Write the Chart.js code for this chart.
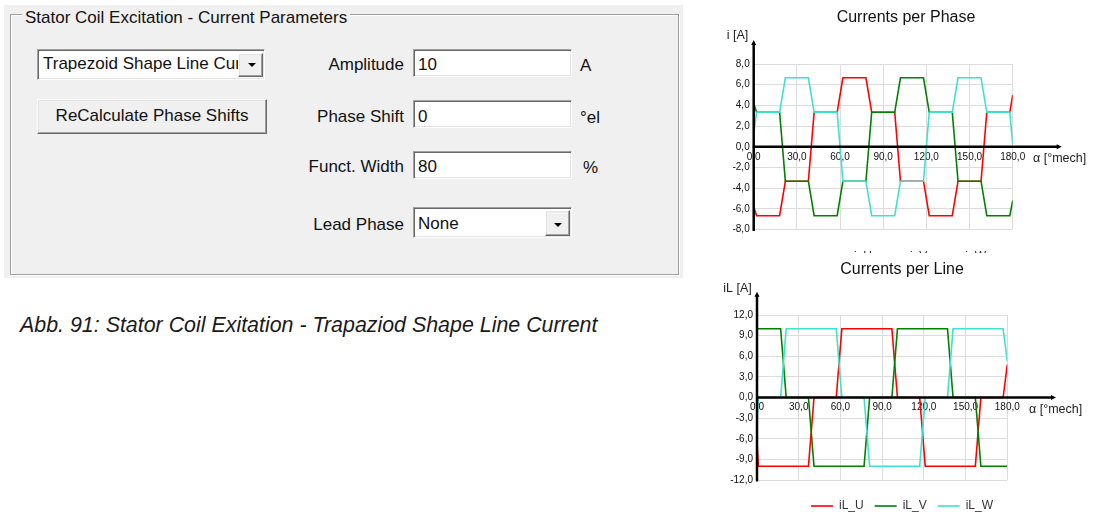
<!DOCTYPE html>
<html><head><meta charset="utf-8">
<script src="https://cdn.jsdelivr.net/npm/chart.js@4.4.1/dist/chart.umd.min.js"></script>
<style>
html,body{margin:0;padding:0;background:#fff;width:1093px;height:514px;overflow:hidden;}
body{position:relative;font-family:'Liberation Sans',Arial,sans-serif;}
.a{position:absolute;}
.t{position:absolute;font-size:17px;line-height:20px;white-space:nowrap;color:#111;}
.r{text-align:right;}
#panel{left:4px;top:5px;width:679px;height:273px;background:#f0f0f0;}
#group{left:10px;top:14px;width:667px;height:259px;border:1px solid #a0a0a0;box-shadow:inset 1px 1px 0 #fff,1px 1px 0 #fff;}
.sunk{position:absolute;box-sizing:border-box;background:#fff;border-top:1px solid #a0a0a0;border-left:1px solid #a0a0a0;border-right:1px solid #fff;border-bottom:1px solid #fff;box-shadow:inset 1px 1px 0 #696969,inset -1px -1px 0 #e3e3e3;}
.raised{position:absolute;box-sizing:border-box;background:#f0f0f0;border-top:1px solid #fff;border-left:1px solid #fff;border-right:1px solid #696969;border-bottom:1px solid #696969;box-shadow:inset -1px -1px 0 #a0a0a0,inset 1px 1px 0 #e3e3e3;}
.tri{position:absolute;width:0;height:0;border-left:4px solid transparent;border-right:4px solid transparent;border-top:4px solid #000;}
#cap{left:20px;top:313px;font-size:21.4px;line-height:24px;font-style:italic;color:#1a1a1a;white-space:nowrap;}
#w1{left:720px;top:0;width:372px;height:253px;overflow:hidden;background:#fff;}
#w2{left:720px;top:253px;width:364px;height:269px;background:#fff;}
canvas{display:block;}
</style>
</head><body>
<div id="panel" class="a"></div>
<div id="group" class="a"></div>
<div class="t" style="left:22px;top:7.7px;padding:0 3px;background:#f0f0f0;">Stator Coil Excitation - Current Parameters</div>

<div class="sunk" style="left:37px;top:49px;width:228px;height:31px;"></div>
<div class="t" style="left:43px;top:54.4px;width:195px;overflow:hidden;">Trapezoid Shape Line Current</div>
<div class="raised" style="left:238px;top:53px;width:25px;height:24px;"></div>
<div class="tri" style="left:248px;top:62.5px;"></div>

<div class="raised" style="left:37px;top:99px;width:230px;height:35px;"></div>
<div class="t" style="left:37px;top:106.2px;width:230px;text-align:center;">ReCalculate Phase Shifts</div>

<div class="t r" style="left:250px;top:54.7px;width:154px;">Amplitude</div>
<div class="t r" style="left:250px;top:106.5px;width:154px;">Phase Shift</div>
<div class="t r" style="left:250px;top:156.5px;width:154px;">Funct. Width</div>
<div class="t r" style="left:250px;top:214.9px;width:154px;">Lead Phase</div>

<div class="sunk" style="left:413px;top:49px;width:159px;height:28px;"></div>
<div class="sunk" style="left:413px;top:100px;width:159px;height:28px;"></div>
<div class="sunk" style="left:413px;top:151px;width:159px;height:28px;"></div>
<div class="t" style="left:418px;top:54.7px;">10</div>
<div class="t" style="left:418px;top:106.5px;">0</div>
<div class="t" style="left:418px;top:156.5px;">80</div>
<div class="t" style="left:580px;top:56px;">A</div>
<div class="t" style="left:580px;top:107.5px;">°el</div>
<div class="t" style="left:583px;top:158px;">%</div>

<div class="sunk" style="left:413px;top:207px;width:159px;height:31px;"></div>
<div class="t" style="left:418px;top:214.2px;">None</div>
<div class="raised" style="left:545px;top:210px;width:25px;height:26px;"></div>
<div class="tri" style="left:554px;top:222.5px;"></div>

<div id="cap" class="a">Abb. 91: Stator Coil Exitation - Trapaziod Shape Line Current</div>

<div id="w1" class="a"><canvas id="c1" width="372" height="273"></canvas></div>
<div id="w2" class="a"><canvas id="c2" width="364" height="269"></canvas></div>

<script>
// ---- Data: Currents per Phase (top chart) ----
const phaseAngles = [0, 2, 18, 22, 38, 42, 58, 62, 78, 82, 98, 102, 118, 122, 138, 142, 158, 162, 178, 180];
const phaseU = [-5.8, -6.67, -6.67, -3.33, -3.33, 3.33, 3.33, 6.67, 6.67, 3.33, 3.33, -3.33, -3.33, -6.67, -6.67, -3.33, -3.33, 3.33, 3.33, 5.0];
const phaseV = [4.2, 3.33, 3.33, -3.33, -3.33, -6.67, -6.67, -3.33, -3.33, 3.33, 3.33, 6.67, 6.67, 3.33, 3.33, -3.33, -3.33, -6.67, -6.67, -5.2];
const phaseW = [1.3, 3.33, 3.33, 6.67, 6.67, 3.33, 3.33, -3.33, -3.33, -6.67, -6.67, -3.33, -3.33, 3.33, 3.33, 6.67, 6.67, 3.33, 3.33, 0.2];
const phaseLabels = ['i_U', 'i_V', 'i_W'];

// ---- Data: Currents per Line (bottom chart) ----
const lineAnglesU = [0, 1, 37, 41, 57, 61, 97, 101, 117, 121, 157, 161, 177, 180];
const lineU = [-6.4, -10, -10, 0, 0, 10, 10, 0, 0, -10, -10, 0, 0, 4.8];
const lineAnglesV = [0, 17, 21, 37, 41, 77, 81, 97, 101, 137, 141, 157, 161, 180];
const lineV = [10, 10, 0, 0, -10, -10, 0, 0, 10, 10, 0, 0, -10, -10];
const lineAnglesW = [0, 1, 17, 21, 57, 61, 77, 81, 117, 121, 137, 141, 177, 180];
const lineW = [-3.5, 0, 0, 10, 10, 0, 0, -10, -10, 0, 0, 10, 10, 5.3];
const lineLabels = ['iL_U', 'iL_V', 'iL_W'];

// ---- Tick setup ----
const angleMin = 0, angleMax = 180, angleStep = 30;
const phaseMin = -8, phaseMax = 8, phaseStep = 2;
const lineMin = -12, lineMax = 12, lineStep = 3;

const colors = ['#ff0000', '#008000', '#40e0d0'];

Chart.defaults.font.family = "'Liberation Sans', Arial, sans-serif";

const fmt = v => Number(v).toFixed(1).replace('.', ',');
const pts = (xs, ys) => xs.map((x, i) => ({x: x, y: ys[i]}));

const axisArrows = {
  id: 'axisArrows',
  afterDatasetsDraw(chart, args, o) {
    const {ctx, chartArea} = chart;
    const x0 = chart.scales.x.getPixelForValue(0);
    const y0 = chart.scales.y.getPixelForValue(0);
    ctx.save();
    ctx.strokeStyle = '#000'; ctx.fillStyle = '#000'; ctx.lineWidth = 2.5;
    ctx.beginPath(); ctx.moveTo(x0, chartArea.bottom + 1.5); ctx.lineTo(x0, o.yTop + 3); ctx.stroke();
    ctx.beginPath(); ctx.moveTo(x0 - 2.5, o.yTop + 5); ctx.lineTo(x0, o.yTop); ctx.lineTo(x0 + 2.5, o.yTop + 5); ctx.closePath(); ctx.fill();
    ctx.beginPath(); ctx.moveTo(x0 - 1, y0); ctx.lineTo(o.xEnd - 3, y0); ctx.stroke();
    ctx.beginPath(); ctx.moveTo(o.xEnd - 5, y0 - 2.5); ctx.lineTo(o.xEnd, y0); ctx.lineTo(o.xEnd - 5, y0 + 2.5); ctx.closePath(); ctx.fill();
    ctx.font = "12.5px 'Liberation Sans', Arial, sans-serif";
    ctx.fillStyle = '#222'; ctx.textBaseline = 'middle';
    ctx.textAlign = 'center'; ctx.fillText(o.yLabel, o.yLabelX, o.yLabelY);
    ctx.textAlign = 'left'; ctx.fillText(o.xLabel, o.xLabelX, o.xLabelY);
    ctx.restore();
  }
};

function makeChart(id, cfg) {
  const datasets = cfg.series.map((s, i) => ({
    label: cfg.labels[i],
    data: pts(s[0], s[1]),
    borderColor: colors[i],
    backgroundColor: colors[i],
    borderWidth: 1.6,
    pointRadius: 0,
    tension: 0,
    fill: false,
    order: 2 - i
  }));
  return new Chart(document.getElementById(id), {
    type: 'line',
    data: {datasets},
    plugins: [axisArrows],
    options: {
      responsive: false,
      animation: false,
      devicePixelRatio: 1,
      events: [],
      layout: {padding: 0},
      scales: {
        x: {
          type: 'linear', position: {y: 0}, min: angleMin, max: angleMax,
          afterFit(s) { s.height = 0; },
          ticks: {stepSize: angleStep, callback: fmt, font: {size: 10}, color: '#111', padding: 4, maxRotation: 0, autoSkip: false},
          grid: {color: '#dcdcdc', drawTicks: false},
          border: {display: false}
        },
        y: {
          type: 'linear', position: 'left', min: cfg.yMin, max: cfg.yMax,
          afterFit(s) { s.width = cfg.yWidth; },
          ticks: {stepSize: cfg.yStep, callback: fmt, font: {size: 10}, color: '#111', padding: 4},
          grid: {color: '#dcdcdc', drawTicks: false},
          border: {display: false}
        },
        yr: {
          type: 'linear', position: 'right', min: 0, max: 1,
          afterFit(s) { s.width = cfg.rWidth; },
          ticks: {display: false}, grid: {display: false}, border: {display: false}
        }
      },
      plugins: {
        tooltip: {enabled: false},
        title: {display: true, text: cfg.title, color: '#111', font: {size: 16, weight: 'normal'}, padding: cfg.titlePad},
        legend: {
          display: true, position: 'bottom', reverse: true,
          title: {display: true, text: '', font: {size: 1}, padding: {top: cfg.legGap, bottom: 0}},
          labels: {usePointStyle: true, pointStyle: 'line', pointStyleWidth: 22, font: {size: 12}, color: '#333', padding: cfg.legPad}
        },
        axisArrows: cfg.arrows
      }
    }
  });
}

makeChart('c1', {
  title: 'Currents per Phase',
  labels: phaseLabels,
  series: [[phaseAngles, phaseU], [phaseAngles, phaseV], [phaseAngles, phaseW]],
  yMin: phaseMin, yMax: phaseMax, yStep: phaseStep,
  yWidth: 33.7, rWidth: 79.3,
  titlePad: {top: 8.4, bottom: 36.4},
  legGap: 10.3, legPad: 10,
  arrows: {yTop: 40, xEnd: 341.7, yLabel: 'i [A]', yLabelX: 17.5, yLabelY: 35.5, xLabel: 'α [°mech]', xLabelX: 313, xLabelY: 158.3}
});

makeChart('c2', {
  title: 'Currents per Line',
  labels: lineLabels,
  series: [[lineAnglesU, lineU], [lineAnglesV, lineV], [lineAnglesW, lineW]],
  yMin: lineMin, yMax: lineMax, yStep: lineStep,
  yWidth: 37, rWidth: 76.7,
  titlePad: {top: 7.4, bottom: 35.4},
  legGap: 7.8, legPad: 11,
  arrows: {yTop: 38.7, xEnd: 336, yLabel: 'iL [A]', yLabelX: 17.5, yLabelY: 35.5, xLabel: 'α [°mech]', xLabelX: 309, xLabelY: 156.3}
});
</script>
</body></html>
